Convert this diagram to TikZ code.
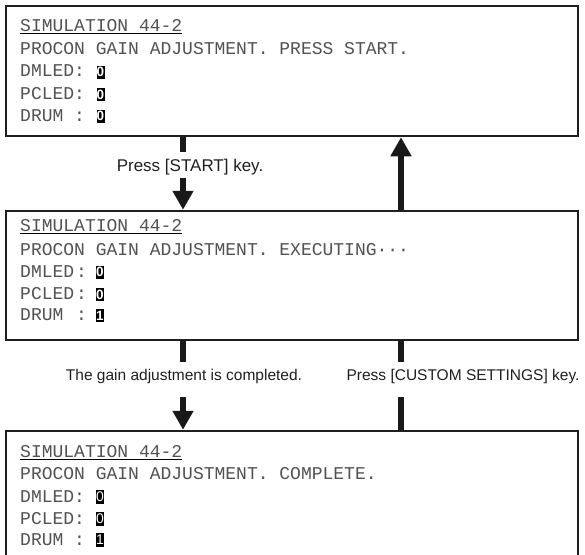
\documentclass[tikz,border=0pt]{standalone}
\usepackage{fontspec}
\setmainfont{Liberation Sans}
\setmonofont{Liberation Mono}
\usetikzlibrary{arrows.meta}

\begin{document}
\frenchspacing
\begin{tikzpicture}[x=1pt,y=-1pt,
  screen/.style={draw=black!88, line width=2.5pt, fill=white, minimum width=572pt, inner sep=0pt},
  mono/.style={anchor=base west, inner sep=0pt, font=\fontsize{18}{18}\selectfont\ttfamily, text=black!68},
  val/.style={fill=black, text=white, minimum width=8pt, minimum height=13pt, inner sep=0pt,
    font=\fontsize{13.5}{13.5}\selectfont\bfseries},
  valthin/.style={val, minimum width=7pt, minimum height=13.5pt, font=\fontsize{14}{14}\selectfont},
  caption/.style={inner sep=0pt, font=\fontsize{15.5}{15.5}\selectfont, text=black!88},
  shaft/.style={line width=6pt, draw=black!90},
  flow/.style={shaft, -{Triangle[width=20pt,length=19pt]}},
  uline/.style={line width=1.1pt, draw=black}
]
\useasboundingbox (0,0) rectangle (585,554);
\clip (0,0) rectangle (585,554);

% screens
\node[screen, minimum height=130pt] (s1) at (292,71) {};
\node[screen, minimum height=129pt] (s2) at (292,275.5) {};
\node[screen, minimum height=129pt] (s3) at (292,495.5) {};

% screen 1
\node[mono] (t1a) at (20,31) {SIMULATION 44-2};
\node[mono] (t1b) at (20,54) {PROCON GAIN ADJUSTMENT. PRESS START.};
\node[mono] (t1c) at (20,76.5) {DMLED:};
\node[mono] (t1d) at (20,99) {PCLED:};
\node[mono] (t1e) at (20,121) {DRUM :};
\draw[uline] ([yshift=-2.3pt]t1a.base west) -- ([yshift=-2.3pt]t1a.base east);
\node[val] (v1a) at (100.5,72) {0};
\node[val] (v1b) at (100.5,94.5) {0};
\node[val] (v1c) at (100.5,116) {0};

% screen 2
\node[mono] (t2a) at (20,231) {SIMULATION 44-2};
\node[mono] (t2b) at (20,255) {PROCON GAIN ADJUSTMENT. EXECUTING\char"B7\char"B7\char"B7};
\node[mono] (t2c) at (20,277) {DMLED\hspace{2pt}:};
\node[mono] (t2d) at (20,299.5) {PCLED\hspace{2pt}:};
\node[mono] (t2e) at (20,320.5) {DRUM \hspace{2pt}:};
\draw[uline] ([yshift=-2.3pt]t2a.base west) -- ([yshift=-2.3pt]t2a.base east);
\node[val] (v2a) at (100,272) {0};
\node[val] (v2b) at (100,294.5) {0};
\node[val] (v2c) at (100,315.5) {1};

% screen 3
\node[mono] (t3a) at (20,457) {SIMULATION 44-2};
\node[mono] (t3b) at (20,479.5) {PROCON GAIN ADJUSTMENT. COMPLETE.};
\node[mono] (t3c) at (20,502) {DMLED:};
\node[mono] (t3d) at (20,524) {PCLED:};
\node[mono] (t3e) at (20,545) {DRUM :};
\draw[uline] ([yshift=-2.3pt]t3a.base west) -- ([yshift=-2.3pt]t3a.base east);
\node[valthin] (v3a) at (100,497) {0};
\node[valthin] (v3b) at (100,519) {0};
\node[valthin] (v3c) at (100,540) {1};

% captions
\node[caption, font=\fontsize{17}{17}\selectfont] (c1) at (190,167) {Press [START] key.};
\node[caption] (c2) at (184,376) {The gain adjustment is completed.};
\node[caption] (c3) at (463,376) {Press [CUSTOM SETTINGS] key.};

% connector break points around the captions
\coordinate (a1) at (183,152);
\coordinate (b1) at (183,178);
\coordinate (up) at (401,0);
\coordinate (a2) at (183,362);
\coordinate (b2) at (183,397);
\coordinate (a3) at (401,362);
\coordinate (b3) at (401,397);

% connectors
\draw[shaft] (s1.south -| a1) -- (a1);
\draw[flow] (b1) -- (s2.north -| b1);
\draw[flow] (s2.north -| up) -- (s1.south -| up);
\draw[shaft] (s2.south -| a2) -- (a2);
\draw[flow] (b2) -- (s3.north -| b2);
\draw[shaft] (s2.south -| a3) -- (a3);
\draw[shaft] (b3) -- (s3.north -| b3);
\end{tikzpicture}
\end{document}
